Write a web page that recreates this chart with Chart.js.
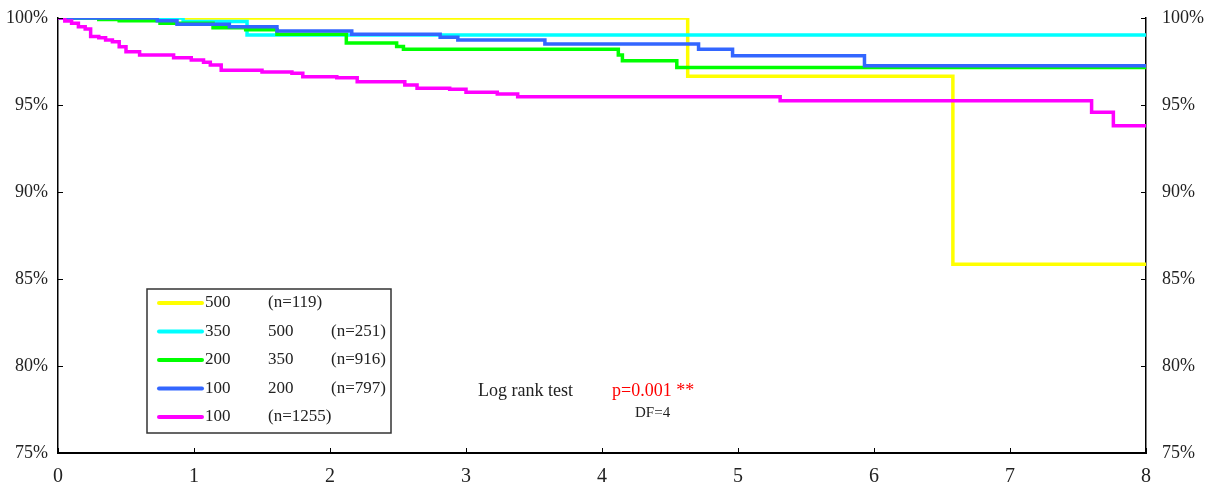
<!DOCTYPE html>
<html>
<head>
<meta charset="utf-8">
<script src="https://cdn.jsdelivr.net/npm/chart.js@4"></script>
<style>
  html,body{margin:0;padding:0;background:#fff;}
  #wrap{width:1210px;height:488px;}
</style>
</head>
<body>
<div id="wrap"><canvas id="km" width="1210" height="488"></canvas></div>
<script>
// time of each step (years) and survival (%) after it
const t500 = [0, 4.63, 6.58];
const s500 = [100, 96.65, 85.85];

const t350 = [0, 0.92, 1.39];
const s350 = [100, 99.8, 99.02];

const t200 = [0, 0.3, 0.45, 0.75, 1.14, 1.38, 1.61, 2.12, 2.49, 2.54, 4.12, 4.15, 4.55];
const s200 = [100, 99.92, 99.84, 99.7, 99.44, 99.33, 99.06, 98.57, 98.36, 98.2, 97.87, 97.55, 97.15];

const t100 = [0, 0.73, 0.875, 1.26, 1.61, 2.16, 2.81, 2.94, 3.58, 4.71, 4.96, 5.93];
const s100 = [100, 99.84, 99.64, 99.5, 99.25, 99.06, 98.89, 98.74, 98.5, 98.2, 97.83, 97.26];

const tLow = [0, 0.05, 0.1, 0.15, 0.2, 0.24, 0.3, 0.35, 0.4, 0.45, 0.5, 0.6, 0.85, 0.98, 1.07, 1.12, 1.2,
              1.5, 1.72, 1.8, 2.05, 2.2, 2.55, 2.64, 2.88, 3.0, 3.23, 3.38, 5.31, 7.6, 7.76];
const sLow = [100, 99.83, 99.7, 99.5, 99.37, 98.93, 98.87, 98.74, 98.64, 98.35, 98.06, 97.87, 97.72, 97.59, 97.45, 97.3, 97.0,
              96.9, 96.82, 96.63, 96.57, 96.34, 96.15, 95.96, 95.9, 95.73, 95.63, 95.48, 95.25, 94.58, 93.81];

const xTicks = [0, 1, 2, 3, 4, 5, 6, 7, 8];
const yTicks = [75, 80, 85, 90, 95, 100];

const legendA = ['500', '350', '200', '100', '100'];
const legendB = ['(n=119)', '500', '350', '200', '(n=1255)'];
const legendC = ['', '(n=251)', '(n=916)', '(n=797)', ''];
const colors = ['#ffff00', '#00ffff', '#00ff00', '#3366ff', '#ff00ff'];

const testLabel = 'Log rank test';
const pLabel = 'p=0.001 **';
const dfLabel = 'DF=4';

const SERIF = "'Liberation Serif', 'Times New Roman', serif";

function steps(t, s){
    const pts = t.map((x,i)=>({x:x, y:s[i]}));
    pts.push({x:xTicks[xTicks.length-1], y:s[s.length-1]});
    return pts;
}

const series = [[t500,s500],[t350,s350],[t200,s200],[t100,s100],[tLow,sLow]];

const datasets = series.map((d,i)=>({
    label: legendA[i],
    data: steps(d[0], d[1]),
    borderColor: colors[i],
    borderWidth: 3.5,
    stepped: 'before',
    pointRadius: 0,
    fill: false,
    order: 5 - i
}));

function yScale(pos, w, pad){
    return {
        type:'linear', position:pos, min:75, max:100,
        afterBuildTicks: s => { s.ticks = yTicks.map(v=>({value:v})); },
        afterFit: s => { s.width = w; s.paddingTop = 0; s.paddingBottom = 0; },
        grid:{display:false, drawTicks:false},
        border:{display:true, color:'#000', width:1.5},
        ticks:{
            padding:pad, color:'#222',
            font:{family:SERIF, size:18},
            callback: v => v + '%'
        }
    };
}

// inward tick marks, legend box and test text
const extras = {
    id:'extras',
    afterDraw(chart){
        const ctx = chart.ctx, a = chart.chartArea;
        const xs = chart.scales.x, yl = chart.scales.y, yr = chart.scales.y2;
        ctx.save();
        ctx.strokeStyle = '#000';
        ctx.lineWidth = 1;
        ctx.beginPath();
        xTicks.forEach(v=>{
            const px = Math.round(xs.getPixelForValue(v)) + 0.5;
            ctx.moveTo(px, a.bottom); ctx.lineTo(px, a.bottom - 5);
        });
        yTicks.forEach(v=>{
            const py = Math.round(yl.getPixelForValue(v)) + 0.5;
            ctx.moveTo(a.left, py); ctx.lineTo(a.left + 5, py);
            const pr = Math.round(yr.getPixelForValue(v)) + 0.5;
            ctx.moveTo(a.right, pr); ctx.lineTo(a.right - 5, pr);
        });
        ctx.stroke();

        // legend
        const bx = 147, by = 289, bw = 244, bh = 144;
        ctx.fillStyle = '#fff';
        ctx.fillRect(bx, by, bw, bh);
        ctx.strokeStyle = '#333';
        ctx.lineWidth = 1.5;
        ctx.strokeRect(bx, by, bw, bh);
        ctx.font = '17px ' + SERIF;
        ctx.textBaseline = 'middle';
        ctx.textAlign = 'left';
        legendA.forEach((lab,i)=>{
            const ry = by + 14 + i * 28.5;
            ctx.strokeStyle = colors[i];
            ctx.lineWidth = 4;
            ctx.lineCap = 'round';
            ctx.beginPath();
            ctx.moveTo(bx + 12, ry); ctx.lineTo(bx + 55, ry);
            ctx.stroke();
            ctx.fillStyle = '#222';
            ctx.fillText(lab, bx + 58, ry);
            ctx.fillText(legendB[i], bx + 121, ry);
            if (legendC[i]) ctx.fillText(legendC[i], bx + 184, ry);
        });

        // log rank annotation
        ctx.font = '18px ' + SERIF;
        ctx.fillStyle = '#222';
        ctx.fillText(testLabel, 478, 391);
        ctx.fillStyle = '#ff0000';
        ctx.fillText(pLabel, 612, 391);
        ctx.font = '15px ' + SERIF;
        ctx.fillStyle = '#222';
        ctx.fillText(dfLabel, 635, 413);
        ctx.restore();
    }
};

new Chart(document.getElementById('km'), {
    type:'line',
    data:{datasets:datasets},
    options:{
        responsive:false,
        animation:false,
        devicePixelRatio:1,
        layout:{padding:{top:18, left:0, right:0, bottom:0}},
        plugins:{legend:{display:false}, tooltip:{enabled:false}},
        scales:{
            x:{
                type:'linear', min:0, max:8,
                afterBuildTicks: s => { s.ticks = xTicks.map(v=>({value:v})); },
                afterFit: s => { s.height = 35; },
                grid:{display:false, drawTicks:false},
                border:{display:true, color:'#000', width:2},
                ticks:{padding:12, color:'#222', font:{family:SERIF, size:20}}
            },
            y: yScale('left', 58, 10),
            y2: yScale('right', 64, 16)
        }
    },
    plugins:[extras]
});
</script>
</body>
</html>
